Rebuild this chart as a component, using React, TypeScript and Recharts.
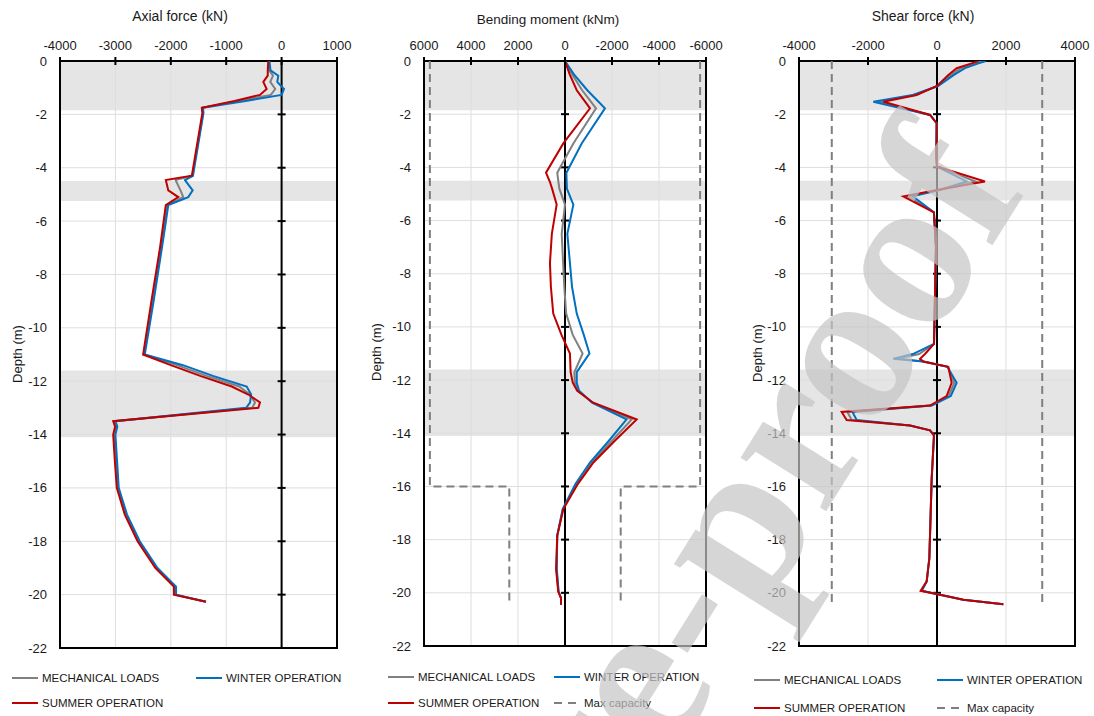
import {
  LineChart, Line, XAxis, YAxis,
  CartesianGrid, ReferenceArea, ReferenceLine
} from "recharts";

// depth axis + soil layers
const depthTicks = [0, -2, -4, -6, -8, -10, -12, -14, -16, -18, -20, -22];
const bandTop = [0, -4.5, -11.6];
const bandBottom = [-1.85, -5.25, -14.1];

// axial force (kN)
const axialTicks = [-4000, -3000, -2000, -1000, 0, 1000];
const axialDepth = [0, -0.35, -0.55, -0.78, -1.05, -1.27, -1.5, -1.75, -1.95, -4.3, -4.46, -4.85, -5.1, -5.4, -7, -9, -11, -11.4, -11.8, -12.2, -12.5, -12.8, -13.0, -13.5, -13.7, -14.0, -15, -16, -17, -18, -19, -19.7, -20.0, -20.27];
const axialMech = [-230, -225, -155, -205, -115, -195, -780, -1430, -1420, -1610, -1915, -1825, -1775, -2065, -2178, -2330, -2485, -1890, -1355, -765, -575, -480, -530, -3020, -2985, -3020, -2990, -2958, -2810, -2580, -2260, -1925, -1925, -1365];
const axialWinter = [-220, -200, -60, -78, 43, 0, -650, -1420, -1410, -1600, -1745, -1605, -1685, -2045, -2160, -2310, -2470, -1780, -1240, -630, -550, -570, -640, -3000, -2965, -3000, -2970, -2940, -2790, -2560, -2240, -1905, -1905, -1365];
const axialSummer = [-240, -250, -250, -330, -270, -390, -850, -1440, -1430, -1620, -2090, -2045, -1865, -2090, -2195, -2350, -2500, -2000, -1470, -900, -600, -390, -420, -3040, -3005, -3040, -3010, -2975, -2830, -2600, -2280, -1945, -1945, -1365];

// bending moment (kNm)
const momentTicks = [-6000, -4000, -2000, 0, 2000, 4000, 6000];
const momentDepth = [0, -0.5, -1.1, -1.78, -3.1, -4.2, -4.55, -4.8, -5.4, -6.5, -7.6, -8.5, -9.5, -10.3, -11.0, -11.7, -12.1, -12.4, -12.85, -13.48, -14.3, -15.1, -15.9, -16.85, -17.85, -19.1, -19.95, -20.2, -20.45];
const momentMech = [0, -300, -730, -1320, -355, 330, 280, 240, 0, 140, 80, 30, -50, -330, -750, -400, -420, -560, -1180, -2840, -1980, -1130, -500, 85, 330, 365, 280, 170, 170];
const momentWinter = [0, -380, -950, -1700, -710, -60, -70, -80, -355, -100, -210, -300, -500, -800, -1040, -500, -500, -600, -1150, -2620, -1850, -1060, -450, 100, 330, 350, 270, 170, 170];
const momentSummer = [0, -200, -500, -1064, 72, 808, 640, 550, 355, 560, 640, 600, 500, 150, -210, -240, -330, -520, -1200, -3050, -2100, -1210, -550, 70, 330, 380, 290, 170, 170];
const momentCapDepth = [0, -16, -16, -20.45];
const momentCapPos = [5750, 5750, 2370, 2370];
const momentCapNeg = [-5750, -5750, -2370, -2370];

// shear force (kN)
const shearTicks = [-4000, -2000, 0, 2000, 4000];
const shearDepth = [0, -0.09, -0.27, -0.53, -0.94, -1.28, -1.53, -2.03, -2.34, -3.6, -3.97, -4.53, -4.84, -5.09, -5.69, -7, -10.64, -11.02, -11.2, -11.3, -11.5, -12.1, -12.6, -12.96, -13.2, -13.5, -13.71, -13.89, -14.08, -15.7, -18.7, -19.57, -19.92, -20.07, -20.26, -20.43];
const shearMech = [1300, 1100, 690, 400, 15, -645, -1700, -200, -10, -20, 0, 1120, 70, -840, -90, -30, -87, -520, -1120, -398, 314, 500, 340, -176, -2600, -2470, -783, -203, -87, -154, -222, -299, -456, 87, 763, 1923];
const shearWinter = [1420, 1200, 810, 480, 30, -700, -1845, -200, -10, -20, 0, 860, 100, -705, -90, -30, -87, -700, -1266, -400, 300, 570, 400, -150, -2450, -2330, -783, -203, -87, -154, -222, -299, -440, 87, 763, 1923];
const shearSummer = [1200, 1005, 570, 330, 0, -590, -1555, -200, -10, -20, 0, 1390, 40, -975, -90, -30, -87, -348, -493, -396, 328, 425, 280, -203, -2763, -2618, -783, -203, -87, -154, -222, -299, -473, 87, 763, 1923];
const shearCapDepth = [0, -20.45];
const shearCapPos = [3050, 3050];
const shearCapNeg = [-3050, -3050];

const GRAY = "#808080";
const BLUE = "#0070c0";
const RED = "#c00000";
const FONT = "'Liberation Sans', Arial, sans-serif";

const XTick = (p: any) => (
  <g>
    <line x1={p.x} x2={p.x} y1={57} y2={65} stroke="#000" strokeWidth={2} />
    <text x={p.x} y={50} textAnchor="middle" fontSize={13} fontFamily={FONT} fill="#1a1a1a">
      {p.payload.value}
    </text>
  </g>
);

const YTick = (p: any) => (
  <text x={47} y={p.y} dy={4.5} textAnchor="end" fontSize={13} fontFamily={FONT} fill="#1a1a1a">
    {p.payload.value}
  </text>
);

// vertical axis through x = 0 with cross tick marks
const ZeroAxis = (p: any) => {
  const top = Math.min(p.y1, p.y2);
  const bot = Math.max(p.y1, p.y2);
  return (
    <g>
      <line x1={p.x1} x2={p.x1} y1={top} y2={bot} stroke="#000" strokeWidth={2} />
      {depthTicks.map((t) => {
        const y = top + (-t / 22) * (bot - top);
        return <line key={t} x1={p.x1 - 4} x2={p.x1 + 4} y1={y} y2={y} stroke="#000" strokeWidth={2} />;
      })}
    </g>
  );
};

interface PanelProps {
  left: number;
  width: number;
  right: number;
  bottom: number;
  domain: [number, number];
  ticks: number[];
  reversed?: boolean;
  depth: number[];
  mech: number[];
  winter: number[];
  summer: number[];
  capDepth?: number[];
  capPos?: number[];
  capNeg?: number[];
}

function Panel(props: PanelProps) {
  const rows = props.depth.map((d, i) => ({
    depth: d, mech: props.mech[i], winter: props.winter[i], summer: props.summer[i]
  }));
  const capRows = (props.capDepth || []).map((d, i) => ({
    depth: d, capPos: props.capPos![i], capNeg: props.capNeg![i]
  }));
  return (
    <div style={{ position: "absolute", left: props.left, top: 0 }}>
      <LineChart
        width={props.width}
        height={716}
        layout="vertical"
        data={rows}
        margin={{ top: 0, right: props.right, bottom: props.bottom, left: 0 }}
      >
        <CartesianGrid stroke="#dedede" />
        {bandTop.map((t, i) => (
          <ReferenceArea key={t} y1={t} y2={bandBottom[i]} fill="#dcdcdc" fillOpacity={0.75} stroke="none" />
        ))}
        <XAxis
          type="number"
          orientation="top"
          domain={props.domain}
          ticks={props.ticks}
          reversed={props.reversed}
          height={61}
          axisLine={false}
          tickLine={false}
          tick={(p: any) => <XTick {...p} />}
          interval={0}
          allowDataOverflow
        />
        <YAxis
          type="number"
          dataKey="depth"
          domain={[-22, 0]}
          ticks={depthTicks}
          reversed
          width={60}
          axisLine={false}
          tickLine={false}
          tick={(p: any) => <YTick {...p} />}
          interval={0}
          allowDataOverflow
        />
        <ReferenceLine x={0} shape={ZeroAxis} />
        {capRows.length > 0 && (
          <Line data={capRows} dataKey="capPos" stroke="#7f7f7f" strokeWidth={2} strokeDasharray="8 5" dot={false} isAnimationActive={false} />
        )}
        {capRows.length > 0 && (
          <Line data={capRows} dataKey="capNeg" stroke="#7f7f7f" strokeWidth={2} strokeDasharray="8 5" dot={false} isAnimationActive={false} />
        )}
        <Line dataKey="mech" stroke={GRAY} strokeWidth={2} dot={false} isAnimationActive={false} />
        <Line dataKey="winter" stroke={BLUE} strokeWidth={2} dot={false} isAnimationActive={false} />
        <Line dataKey="summer" stroke={RED} strokeWidth={2} dot={false} isAnimationActive={false} />
        <ReferenceArea x1={props.domain[0]} x2={props.domain[1]} y1={-22} y2={0} fill="none" stroke="#000" strokeWidth={2} />
      </LineChart>
    </div>
  );
}

const LegendItem = ({ x, y, color, dashed, label }: any) => (
  <g>
    <line x1={x} x2={x + 26} y1={y} y2={y} stroke={color} strokeWidth={2} strokeDasharray={dashed ? "8 6" : undefined} />
    <text x={x + 30} y={y + 4.2} fontSize={11.5} fontFamily={FONT} fill="#1a1a1a">{label}</text>
  </g>
);

export default function App() {
  return (
    <div style={{ position: "absolute", left: 0, top: 0, width: 1094, height: 716, background: "#fff", overflow: "hidden" }}>
      <Panel left={0} width={360} right={23} bottom={68} domain={[-4000, 1000]} ticks={axialTicks}
        depth={axialDepth} mech={axialMech} winter={axialWinter} summer={axialSummer} />
      <Panel left={364} width={370} right={28} bottom={70} domain={[-6000, 6000]} ticks={momentTicks} reversed
        depth={momentDepth} mech={momentMech} winter={momentWinter} summer={momentSummer}
        capDepth={momentCapDepth} capPos={momentCapPos} capNeg={momentCapNeg} />
      <Panel left={739} width={355} right={19} bottom={70} domain={[-4000, 4000]} ticks={shearTicks}
        depth={shearDepth} mech={shearMech} winter={shearWinter} summer={shearSummer}
        capDepth={shearCapDepth} capPos={shearCapPos} capNeg={shearCapNeg} />

      <svg width={1094} height={716} style={{ position: "absolute", left: 0, top: 0, pointerEvents: "none" }}>
        <g fontFamily={FONT} fill="#1a1a1a">
          <text x={180} y={21} textAnchor="middle" fontSize={14}>Axial force (kN)</text>
          <text x={548} y={24} textAnchor="middle" fontSize={13.5}>Bending moment (kNm)</text>
          <text x={923} y={21} textAnchor="middle" fontSize={14}>Shear force (kN)</text>
          <text transform="translate(21.5,354) rotate(-90)" textAnchor="middle" fontSize={13}>Depth (m)</text>
          <text transform="translate(380.5,352) rotate(-90)" textAnchor="middle" fontSize={13}>Depth (m)</text>
          <text transform="translate(761.5,353) rotate(-90)" textAnchor="middle" fontSize={13}>Depth (m)</text>
        </g>
        <LegendItem x={12} y={678} color={GRAY} label="MECHANICAL LOADS" />
        <LegendItem x={196} y={678} color={BLUE} label="WINTER OPERATION" />
        <LegendItem x={12} y={703} color={RED} label="SUMMER OPERATION" />
        <LegendItem x={388} y={677} color={GRAY} label="MECHANICAL LOADS" />
        <LegendItem x={554} y={677} color={BLUE} label="WINTER OPERATION" />
        <LegendItem x={388} y={703} color={RED} label="SUMMER OPERATION" />
        <LegendItem x={554} y={703} color="#7f7f7f" dashed label="Max capacity" />
        <LegendItem x={754} y={680} color={GRAY} label="MECHANICAL LOADS" />
        <LegendItem x={937} y={680} color={BLUE} label="WINTER OPERATION" />
        <LegendItem x={754} y={708} color={RED} label="SUMMER OPERATION" />
        <LegendItem x={937} y={708} color="#7f7f7f" dashed label="Max capacity" />
        <text x={1028} y={188} transform="rotate(-58 1028 188)" textAnchor="end"
          fontFamily="'Liberation Serif', 'Times New Roman', serif" fontWeight="bold" fontSize={220}
          fill="#c4c4c4" fillOpacity={0.7}>Journal Pre-proof</text>
      </svg>
    </div>
  );
}
